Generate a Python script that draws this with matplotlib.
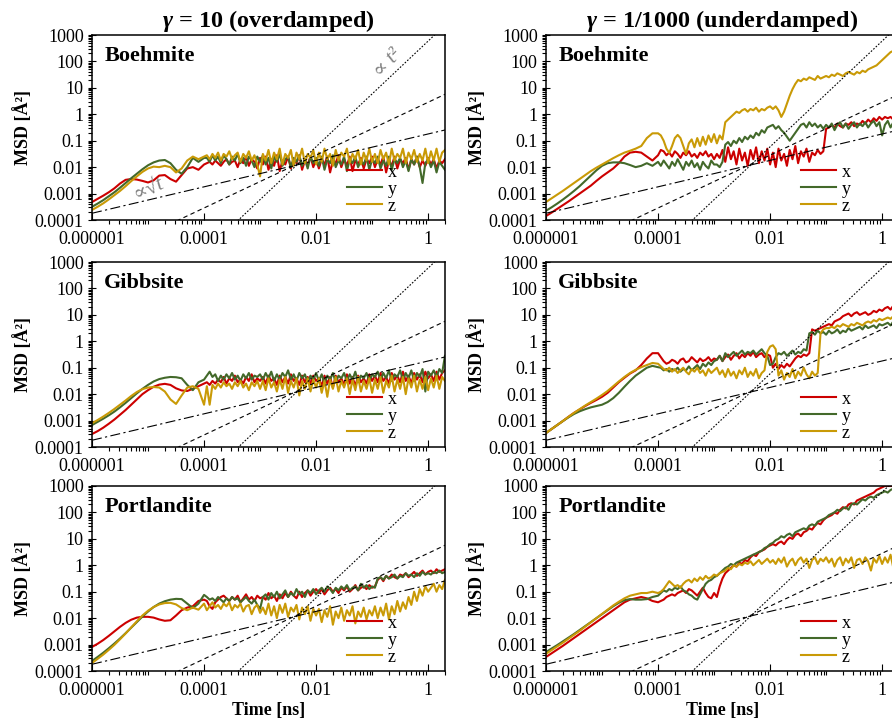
import numpy as np
import matplotlib
matplotlib.use("Agg")
import matplotlib.pyplot as plt
from matplotlib.ticker import FixedLocator, LogLocator, FuncFormatter, NullFormatter

plt.rcParams['font.family'] = ['Liberation Serif', 'DejaVu Serif']
plt.rcParams['mathtext.fontset'] = 'custom'
plt.rcParams['mathtext.it'] = 'Liberation Serif:italic:bold'
plt.rcParams['mathtext.rm'] = 'Liberation Serif:bold'

# ---- data: log10(time / ns) and log10(MSD / A^2) ----
log_t = [-6.0, -5.9, -5.8, -5.7, -5.6, -5.5, -5.4, -5.3, -5.2, -5.1, -5.0,
         -4.9, -4.8, -4.7, -4.6, -4.5, -4.4, -4.3, -4.2, -4.1, -4.0,
         -3.95, -3.9, -3.85, -3.8, -3.75, -3.7, -3.65, -3.6, -3.55, -3.5,
         -3.45, -3.4, -3.35, -3.3, -3.25, -3.2, -3.15, -3.1, -3.05, -3.0,
         -2.95, -2.9, -2.85, -2.8, -2.75, -2.7, -2.65, -2.6, -2.55, -2.5,
         -2.45, -2.4, -2.35, -2.3, -2.25, -2.2, -2.15, -2.1, -2.05, -2.0,
         -1.95, -1.9, -1.85, -1.8, -1.75, -1.7, -1.65, -1.6, -1.55, -1.5,
         -1.45, -1.4, -1.35, -1.3, -1.25, -1.2, -1.15, -1.1, -1.05, -1.0,
         -0.95, -0.9, -0.85, -0.8, -0.75, -0.7, -0.65, -0.6, -0.55, -0.5,
         -0.45, -0.4, -0.35, -0.3, -0.25, -0.2, -0.15, -0.1, -0.05, 0.0,
         0.05, 0.1, 0.15, 0.2, 0.25, 0.3]

# gamma = 10 (overdamped)
boeh_od_x = [-3.32, -3.2, -3.08, -2.95, -2.8, -2.62, -2.48, -2.45, -2.47, -2.52, -2.58, -2.5, -2.32, -2.3, -2.45, -2.55, -2.3, -2.05, -2.0, -2.1, -1.9,
             -1.85, -1.8, -1.9, -1.75, -1.85, -1.95, -1.8, -1.7, -1.9, -1.8, -1.75, -2.0, -1.7, -1.85, -1.6, -1.95, -1.7, -1.8, -2.05, -1.65,
             -1.9, -1.6, -2.1, -1.7, -1.95, -1.55, -2.15, -1.75, -1.9, -1.6, -2.05, -1.7, -1.85, -1.55, -2.1, -1.75, -1.9, -1.6, -2.0, -1.7,
             -2.05, -1.7, -1.9, -1.6, -2.2, -1.75, -1.85, -1.55, -2.0, -1.7, -1.95, -1.6, -2.15, -1.75, -1.9, -1.65, -2.05, -1.7, -1.85, -1.6,
             -2.0, -1.7, -1.9, -1.6, -2.2, -1.75, -1.95, -1.6, -2.05, -1.7, -1.85, -1.65, -2.1, -1.7, -1.9, -1.6, -2.0, -1.75, -1.95, -1.65,
             -1.9, -1.7, -2.05, -1.75, -1.85, -1.7]
boeh_od_y = [-3.5, -3.38, -3.25, -3.1, -2.95, -2.78, -2.6, -2.42, -2.25, -2.08, -1.93, -1.82, -1.75, -1.73, -1.85, -2.1, -2.25, -2.0, -1.65, -1.8, -1.65,
             -1.65, -1.8, -1.55, -1.75, -1.6, -1.85, -1.55, -1.7, -1.9, -1.6, -1.75, -1.5, -1.85, -1.65, -1.95, -1.6, -1.75, -2.0, -1.6, -1.8,
             -1.55, -1.9, -1.65, -2.05, -1.6, -1.8, -1.5, -1.95, -1.7, -1.6, -2.0, -1.65, -1.8, -1.55, -1.95, -1.7, -2.05, -1.6, -1.85, -1.65,
             -1.95, -1.6, -2.1, -1.7, -1.85, -1.55, -2.0, -1.75, -1.9, -1.6, -2.15, -1.7, -1.85, -1.6, -2.0, -1.75, -1.9, -1.6, -2.1, -1.7,
             -1.85, -1.6, -2.05, -1.75, -1.95, -1.6, -2.1, -1.7, -1.85, -1.65, -2.0, -1.75, -2.15, -1.7, -1.9, -1.6, -2.0, -2.6, -1.85, -1.7,
             -2.0, -1.75, -2.2, -1.8, -1.95, -2.1]
boeh_od_z = [-3.62, -3.5, -3.37, -3.22, -3.06, -2.9, -2.72, -2.53, -2.35, -2.18, -2.05, -1.98, -2.0, -1.95, -2.0, -2.2, -2.05, -1.75, -1.6, -1.7, -1.6,
             -1.55, -1.7, -1.5, -1.65, -1.45, -1.75, -1.5, -1.6, -1.4, -1.7, -1.55, -1.45, -1.8, -1.5, -1.65, -1.4, -1.75, -1.55, -1.9, -2.35,
             -1.5, -1.75, -1.35, -1.85, -1.45, -1.7, -1.3, -1.9, -1.5, -1.65, -1.35, -1.95, -1.45, -1.7, -1.3, -1.85, -1.5, -1.65, -1.35, -1.9,
             -1.45, -1.8, -1.3, -1.7, -1.5, -1.95, -1.35, -1.75, -1.45, -1.6, -1.3, -1.85, -1.5, -1.7, -1.35, -1.9, -1.45, -1.75, -1.3, -1.8,
             -1.5, -1.85, -1.35, -1.7, -1.45, -1.9, -1.3, -1.75, -1.5, -1.65, -1.3, -1.85, -1.45, -1.7, -1.35, -1.8, -1.5, -1.75, -1.3, -1.85,
             -1.4, -1.75, -1.3, -1.8, -1.45, -1.35]

gibb_od_x = [-3.51, -3.4, -3.27, -3.12, -2.96, -2.78, -2.6, -2.4, -2.2, -2.0, -1.85, -1.72, -1.64, -1.61, -1.65, -1.78, -1.86, -1.88, -1.8, -1.7, -1.6,
             -1.55, -1.65, -1.5, -1.6, -1.45, -1.55, -1.35, -1.6, -1.4, -1.5, -1.3, -1.55, -1.45, -1.6, -1.35, -1.5, -1.25, -1.55, -1.4, -1.5,
             -1.35, -1.6, -1.3, -1.5, -1.4, -1.65, -1.3, -1.55, -1.35, -1.6, -1.25, -1.5, -1.4, -1.65, -1.3, -1.55, -1.35, -1.6, -1.3, -1.5,
             -1.4, -1.7, -1.3, -1.6, -1.35, -1.75, -1.3, -1.55, -1.4, -1.65, -1.25, -1.6, -1.35, -1.7, -1.3, -1.55, -1.4, -1.6, -1.25, -1.5,
             -1.3, -1.55, -1.2, -1.5, -1.35, -1.6, -1.2, -1.45, -1.3, -1.55, -1.15, -1.5, -1.3, -1.6, -1.2, -1.45, -1.25, -1.55, -1.15, -1.4,
             -1.25, -1.5, -1.15, -1.45, -1.2, -1.1]
gibb_od_y = [-3.17, -3.05, -2.93, -2.8, -2.66, -2.5, -2.33, -2.15, -1.97, -1.8, -1.65, -1.52, -1.43, -1.38, -1.35, -1.36, -1.4, -1.65, -1.85, -1.55, -1.45,
             -1.3, -1.15, -1.35, -1.25, -1.5, -1.3, -1.45, -1.25, -1.4, -1.2, -1.45, -1.3, -1.5, -1.25, -1.4, -1.2, -1.45, -1.3, -1.35, -1.25,
             -1.45, -1.2, -1.4, -1.15, -1.5, -1.25, -1.45, -1.2, -1.35, -1.1, -1.45, -1.25, -1.5, -1.2, -1.4, -1.25, -1.55, -1.3, -1.45, -1.2,
             -1.5, -1.25, -1.6, -1.3, -1.45, -1.2, -1.55, -1.3, -1.4, -1.2, -1.5, -1.25, -1.45, -1.15, -1.55, -1.3, -1.4, -1.2, -1.5, -1.25,
             -1.35, -1.15, -1.45, -1.2, -1.4, -1.1, -1.5, -1.25, -1.35, -1.1, -1.45, -1.2, -1.4, -1.1, -1.5, -1.2, -1.35, -1.05, -1.9, -1.15,
             -1.3, -1.1, -1.35, -1.05, -1.2, -0.55]
gibb_od_z = [-3.1, -2.98, -2.85, -2.71, -2.56, -2.4, -2.24, -2.07, -1.92, -1.81, -1.75, -1.73, -1.75, -1.9, -2.2, -2.37, -2.05, -1.75, -1.7, -1.8, -2.4,
             -1.7, -2.4, -1.65, -1.8, -1.6, -1.75, -1.55, -1.7, -1.6, -1.8, -1.55, -1.7, -1.5, -1.75, -1.6, -1.85, -1.55, -1.7, -1.5, -1.8,
             -1.5, -1.85, -1.4, -1.75, -1.55, -1.9, -1.45, -1.8, -1.35, -1.95, -1.5, -1.75, -1.4, -2.05, -1.5, -1.8, -1.4, -1.9, -1.45, -1.75,
             -1.4, -1.95, -1.5, -2.1, -1.45, -1.8, -1.35, -1.9, -1.5, -1.75, -1.4, -2.0, -1.45, -1.85, -1.35, -1.9, -1.5, -1.8, -1.4, -1.95,
             -1.45, -1.8, -1.35, -1.95, -1.5, -1.75, -1.3, -1.9, -1.45, -1.8, -1.35, -2.0, -1.4, -1.75, -1.3, -1.9, -1.45, -1.8, -1.35, -1.85,
             -1.4, -1.75, -1.3, -1.8, -1.35, -1.5]

port_od_x = [-3.09, -2.97, -2.83, -2.67, -2.5, -2.33, -2.18, -2.06, -1.98, -1.95, -1.95, -1.98, -2.05, -2.1, -2.08, -1.9, -1.7, -1.6, -1.55, -1.35, -1.3,
             -1.35, -1.55, -1.65, -1.4, -1.3, -1.2, -1.15, -1.25, -1.35, -1.2, -1.3, -1.15, -1.4, -1.25, -1.1, -1.3, -1.2, -1.35, -1.15, -1.25,
             -1.2, -1.3, -1.05, -1.25, -1.15, -1.35, -1.1, -1.25, -1.05, -1.2, -1.0, -1.15, -1.25, -1.0, -1.2, -1.05, -0.95, -1.15, -1.0, -0.9,
             -1.05, -0.9, -1.1, -0.95, -0.85, -1.0, -0.9, -1.05, -0.85, -0.95, -0.8, -1.0, -0.9, -0.75, -0.95, -0.85, -0.8, -0.9, -0.75, -0.85,
             -0.8, -0.55, -0.45, -0.6, -0.4, -0.5, -0.35, -0.45, -0.5, -0.35, -0.4, -0.3, -0.45, -0.35, -0.25, -0.4, -0.3, -0.2, -0.35, -0.25,
             -0.2, -0.3, -0.15, -0.25, -0.2, -0.15]
port_od_y = [-3.62, -3.47, -3.31, -3.14, -2.96, -2.77, -2.57, -2.36, -2.15, -1.94, -1.75, -1.58, -1.45, -1.36, -1.3, -1.27, -1.28, -1.45, -1.62, -1.45, -1.12,
             -1.2, -1.3, -1.25, -1.35, -1.2, -1.3, -1.4, -1.25, -1.35, -1.2, -1.3, -1.25, -1.4, -1.3, -1.2, -1.35, -1.45, -1.3, -1.5, -1.65,
             -1.2, -1.1, -1.3, -1.05, -1.2, -1.0, -1.25, -1.1, -0.95, -1.2, -1.05, -1.15, -0.9, -1.1, -1.0, -1.2, -0.95, -1.05, -0.9, -1.1,
             -0.95, -0.85, -1.0, -0.8, -0.9, -1.05, -0.85, -0.95, -0.8, -0.9, -0.75, -0.95, -0.85, -0.8, -0.95, -0.7, -0.85, -0.75, -0.9, -0.8,
             -0.85, -0.5, -0.45, -0.55, -0.4, -0.5, -0.45, -0.35, -0.5, -0.4, -0.45, -0.3, -0.4, -0.35, -0.45, -0.3, -0.4, -0.25, -0.35, -0.3,
             -0.35, -0.25, -0.3, -0.2, -0.3, -0.25]
port_od_z = [-3.7, -3.54, -3.38, -3.2, -3.01, -2.8, -2.58, -2.35, -2.12, -1.9, -1.72, -1.58, -1.48, -1.43, -1.42, -1.48, -1.62, -1.7, -1.6, -1.68, -1.45,
             -1.7, -1.55, -1.4, -1.6, -1.5, -1.65, -1.45, -1.55, -1.4, -1.7, -1.5, -1.6, -1.45, -1.75, -1.55, -1.5, -1.85, -1.6, -1.5, -1.8,
             -1.6, -1.85, -1.45, -1.9, -1.55, -2.0, -1.5, -1.8, -1.45, -1.95, -1.6, -1.75, -1.5, -2.05, -1.6, -1.85, -1.55, -2.1, -1.65, -1.9,
             -1.65, -2.15, -1.7, -1.95, -1.55, -2.25, -1.75, -2.0, -1.6, -2.1, -1.7, -1.9, -1.55, -2.2, -1.75, -1.95, -1.6, -2.05, -1.7, -1.9,
             -1.55, -2.0, -1.6, -1.9, -1.45, -2.05, -1.55, -1.85, -1.35, -1.75, -1.4, -1.65, -1.2, -1.5, -1.0, -1.35, -0.9, -1.15, -0.8, -1.0,
             -0.85, -0.7, -1.0, -0.75, -0.9, -0.55]

# gamma = 1/1000 (underdamped)
boeh_ud_x = [-3.85, -3.72, -3.58, -3.44, -3.3, -3.15, -3.0, -2.85, -2.7, -2.52, -2.35, -2.2, -2.05, -1.85, -1.6, -1.45, -1.42, -1.45, -1.6, -1.75, -1.55,
             -1.35, -1.4, -1.55, -1.45, -1.6, -1.4, -1.5, -1.65, -1.45, -1.55, -1.4, -1.6, -1.5, -1.65, -1.45, -1.55, -1.4, -1.6, -1.5, -1.7,
             -1.5, -1.65, -1.35, -1.8, -1.25, -1.7, -1.4, -1.9, -1.3, -1.75, -1.45, -1.95, -1.35, -1.7, -1.25, -1.85, -1.4, -1.75, -1.3, -1.9,
             -1.45, -2.0, -1.3, -1.75, -1.5, -1.95, -1.35, -1.7, -1.2, -1.85, -1.4, -1.6, -1.3, -1.8, -1.45, -1.55, -1.35, -1.5, -1.4, -0.55,
             -0.5, -0.4, -0.5, -0.35, -0.45, -0.5, -0.35, -0.4, -0.3, -0.45, -0.35, -0.4, -0.25, -0.35, -0.2, -0.3, -0.15, -0.25, -0.1, -0.2,
             -0.1, -0.15, -0.1, -0.2, -0.1, -0.15]
boeh_ud_y = [-3.65, -3.52, -3.38, -3.23, -3.07, -2.9, -2.72, -2.52, -2.32, -2.12, -1.95, -1.85, -1.82, -1.82, -1.85, -1.92, -2.0, -1.95, -1.85, -1.95, -1.8,
             -1.95, -1.75, -1.9, -2.05, -1.8, -1.95, -1.7, -1.9, -2.1, -1.8, -1.95, -1.75, -2.0, -1.85, -2.1, -1.8, -1.95, -2.05, -1.75, -1.9,
             -1.9, -2.0, -1.8, -1.15, -1.05, -1.2, -1.0, -1.1, -0.9, -1.05, -0.85, -0.95, -0.8, -0.9, -0.7, -0.8, -0.6, -0.7, -0.5, -0.45,
             -0.4, -0.55, -0.45, -0.6, -0.7, -0.85, -1.0, -0.85, -0.7, -0.55, -0.4, -0.35, -0.5, -0.3, -0.45, -0.35, -0.5, -0.4, -0.55, -0.4,
             -0.5, -0.35, -0.6, -0.4, -0.3, -0.5, -0.35, -0.55, -0.4, -0.3, -0.5, -0.35, -0.45, -0.3, -0.5, -0.35, -0.25, -0.45, -0.3, -0.8,
             -0.4, -0.25, -0.5, -0.3, -0.4, -0.3]
boeh_ud_z = [-3.32, -3.18, -3.04, -2.9, -2.75, -2.6, -2.45, -2.3, -2.15, -2.02, -1.9, -1.78, -1.66, -1.55, -1.45, -1.38, -1.3, -1.2, -0.9, -0.72, -0.72,
             -0.8, -1.0, -1.3, -1.46, -1.2, -0.9, -0.78, -0.9, -1.2, -1.5, -1.1, -0.95, -1.25, -0.9, -1.2, -0.85, -1.15, -0.8, -1.05, -0.75,
             -1.1, -0.8, -0.95, -0.3, -0.2, -0.1, 0.0, 0.1, 0.05, 0.15, 0.2, 0.1, 0.2, 0.15, 0.25, 0.1, 0.2, 0.15, 0.25, 0.3,
             0.2, 0.3, 0.15, -0.1, 0.1, 0.4, 0.7, 0.95, 1.15, 1.3, 1.25, 1.35, 1.3, 1.4, 1.35, 1.3, 1.45, 1.35, 1.4, 1.45,
             1.4, 1.5, 1.45, 1.55, 1.5, 1.45, 1.55, 1.6, 1.55, 1.5, 1.6, 1.55, 1.65, 1.6, 1.7, 1.75, 1.8, 1.85, 1.95, 2.05,
             2.15, 2.25, 2.35, 2.4, 2.45, 2.5]

gibb_ud_x = [-3.47, -3.32, -3.17, -3.02, -2.86, -2.71, -2.58, -2.45, -2.33, -2.22, -2.1, -1.95, -1.75, -1.55, -1.38, -1.22, -1.1, -0.9, -0.65, -0.45, -0.45,
             -0.6, -0.75, -0.85, -0.8, -0.7, -0.75, -0.85, -0.7, -0.65, -0.8, -0.75, -0.6, -0.7, -0.8, -0.65, -0.75, -0.7, -0.6, -0.75, -0.65,
             -0.7, -0.55, -0.75, -0.6, -0.5, -0.7, -0.55, -0.45, -0.65, -0.5, -0.6, -0.45, -0.55, -0.4, -0.6, -0.5, -0.45, -0.6, -0.5, -0.55,
             -1.0, -0.85, -1.05, -0.9, -1.0, -0.85, -0.95, -0.8, -0.65, -0.55, -0.6, -0.5, -0.55, -0.45, 0.45, 0.4, 0.45, 0.5, 0.55, 0.6,
             0.65, 0.6, 0.75, 0.8, 0.85, 0.95, 1.0, 1.05, 0.95, 1.05, 1.1, 1.0, 1.05, 1.1, 1.0, 1.05, 1.15, 1.1, 1.2, 1.15,
             1.25, 1.3, 1.2, 1.35, 1.3, 1.25]
gibb_ud_y = [-3.47, -3.32, -3.17, -3.02, -2.88, -2.75, -2.65, -2.57, -2.5, -2.45, -2.4, -2.3, -2.15, -1.95, -1.72, -1.5, -1.3, -1.15, -1.0, -0.93, -0.98,
             -1.0, -1.1, -1.05, -1.15, -1.05, -1.1, -1.0, -1.15, -1.05, -1.1, -0.95, -1.1, -1.0, -0.9, -1.05, -0.85, -0.95, -0.8, -0.9, -0.75,
             -0.7, -0.55, -0.75, -0.45, -0.6, -0.5, -0.4, -0.55, -0.45, -0.35, -0.5, -0.4, -0.45, -0.35, -0.5, -0.4, -0.3, -0.45, -0.55, -0.9,
             -0.85, -0.6, -0.45, -0.5, -0.4, -0.55, -0.45, -0.35, -0.5, -0.4, -0.45, -0.3, -0.35, 0.3, 0.35, 0.25, 0.4, 0.3, 0.35, 0.25,
             0.4, 0.3, 0.35, 0.45, 0.3, 0.4, 0.35, 0.5, 0.4, 0.45, 0.5, 0.55, 0.45, 0.6, 0.5, 0.55, 0.6, 0.5, 0.65, 0.6,
             0.65, 0.7, 0.6, 0.75, 0.7, 0.8]
gibb_ud_z = [-3.47, -3.32, -3.17, -3.02, -2.86, -2.71, -2.57, -2.43, -2.3, -2.17, -2.03, -1.88, -1.7, -1.52, -1.35, -1.2, -1.08, -0.98, -0.9, -0.82, -0.85,
             -0.95, -1.05, -1.1, -1.0, -1.15, -1.05, -1.2, -1.1, -1.0, -1.15, -1.25, -1.05, -1.15, -1.0, -1.2, -1.1, -1.3, -1.05, -1.2, -1.1,
             -1.0, -1.25, -1.1, -1.35, -1.05, -1.3, -1.15, -1.4, -1.1, -1.25, -1.0, -1.35, -1.15, -1.3, -1.05, -1.4, -1.2, -1.1, -0.4, -0.2,
             -0.15, -0.3, -1.3, -1.1, -1.45, -1.2, -1.35, -1.05, -1.4, -1.15, -1.3, -1.0, -1.25, -1.4, -1.15, -1.3, -1.2, 0.3, 0.45, 0.5,
             0.5, 0.55, 0.5, 0.6, 0.55, 0.65, 0.6, 0.55, 0.65, 0.6, 0.7, 0.65, 0.6, 0.7, 0.75, 0.7, 0.8, 0.75, 0.85, 0.8,
             0.85, 0.9, 0.85, 0.95, 0.9, 1.0]

port_ud_x = [-3.47, -3.33, -3.19, -3.05, -2.9, -2.75, -2.6, -2.45, -2.3, -2.15, -2.0, -1.85, -1.7, -1.55, -1.4, -1.3, -1.25, -1.2, -1.25, -1.35, -1.4,
             -1.35, -1.3, -1.2, -1.15, -1.1, -1.15, -1.05, -1.0, -0.95, -1.05, -0.9, -0.95, -1.05, -1.15, -1.0, -0.85, -1.05, -1.2, -1.25, -1.05,
             -1.2, -0.8, -0.5, -0.3, -0.2, -0.1, 0.0, -0.05, 0.1, 0.05, 0.2, 0.15, 0.3, 0.4, 0.35, 0.5, 0.55, 0.6, 0.7, 0.75,
             0.8, 0.75, 0.85, 0.9, 0.8, 0.95, 1.05, 1.0, 1.15, 1.2, 1.1, 1.25, 1.3, 1.4, 1.35, 1.5, 1.6, 1.55, 1.7, 1.8,
             1.85, 1.9, 2.0, 1.95, 2.1, 2.2, 2.15, 2.3, 2.35, 2.3, 2.45, 2.5, 2.55, 2.6, 2.65, 2.7, 2.75, 2.85, 2.9, 2.95,
             3.0, 3.0, 3.0, 3.0, 3.0, 3.0]
port_ud_y = [-3.28, -3.15, -3.02, -2.88, -2.74, -2.6, -2.45, -2.3, -2.15, -2.0, -1.85, -1.7, -1.55, -1.42, -1.32, -1.28, -1.3, -1.3, -1.28, -1.2, -1.15,
             -1.05, -0.95, -1.0, -0.9, -0.95, -0.85, -0.9, -0.8, -0.95, -1.0, -1.1, -1.15, -1.25, -1.3, -1.1, -0.9, -0.7, -0.6, -0.55, -0.45,
             -0.4, -0.3, -0.2, -0.1, -0.05, 0.05, 0.0, 0.1, 0.15, 0.2, 0.25, 0.3, 0.35, 0.4, 0.45, 0.5, 0.55, 0.65, 0.7, 0.8,
             0.85, 0.95, 1.0, 1.1, 1.05, 1.15, 1.2, 1.1, 1.25, 1.3, 1.35, 1.4, 1.35, 1.5, 1.55, 1.5, 1.65, 1.7, 1.75, 1.8,
             1.9, 1.95, 2.0, 2.1, 2.05, 2.15, 2.2, 2.1, 2.3, 2.35, 2.3, 2.4, 2.5, 2.45, 2.55, 2.6, 2.55, 2.65, 2.7, 2.75,
             2.8, 2.75, 2.85, 2.9, 2.95, 3.0]
port_ud_z = [-3.35, -3.21, -3.07, -2.93, -2.78, -2.63, -2.48, -2.32, -2.16, -2.0, -1.84, -1.68, -1.52, -1.38, -1.25, -1.15, -1.1, -1.05, -1.05, -1.0, -1.05,
             -1.0, -0.9, -0.75, -0.6, -0.7, -0.8, -0.75, -0.85, -0.7, -0.6, -0.55, -0.65, -0.5, -0.6, -0.45, -0.55, -0.4, -0.5, -0.45, -0.35,
             -0.4, -0.3, -0.25, -0.2, -0.1, -0.15, 0.0, -0.05, 0.05, 0.0, 0.1, 0.05, 0.15, 0.0, 0.1, 0.2, 0.05, 0.15, 0.25, 0.1,
             0.2, 0.05, 0.25, 0.1, 0.3, -0.05, 0.15, 0.25, 0.0, 0.2, 0.3, 0.1, 0.25, -0.1, 0.2, 0.3, 0.05, 0.25, 0.15, 0.3,
             0.1, 0.25, -0.05, 0.2, 0.3, 0.0, 0.25, 0.1, 0.3, -0.1, 0.2, 0.25, 0.05, 0.3, 0.15, -0.2, 0.25, 0.1, 0.35, 0.05,
             0.3, 0.1, 0.4, -0.1, 0.25, 0.35]

minerals = ['Boehmite', 'Gibbsite', 'Portlandite']
titles = [r'$\gamma$ = 10 (overdamped)', r'$\gamma$ = 1/1000 (underdamped)']
components = ['x', 'y', 'z']
comp_colors = ['#CC0000', '#43692A', '#C99A06']

# power-law guide lines: MSD = coef * t^power
guide_power = [2.0, 1.0, 0.5]
guide_coef = [590.0, 2.85, 0.18]
guide_t = [1e-6, 2.0]

x_ticks = [1e-6, 1e-4, 1e-2, 1.0]
y_ticks = [1e-4, 1e-3, 1e-2, 1e-1, 1.0, 10.0, 100.0, 1000.0]

series = [[(boeh_od_x, boeh_od_y, boeh_od_z), (boeh_ud_x, boeh_ud_y, boeh_ud_z)],
          [(gibb_od_x, gibb_od_y, gibb_od_z), (gibb_ud_x, gibb_ud_y, gibb_ud_z)],
          [(port_od_x, port_od_y, port_od_z), (port_ud_x, port_ud_y, port_ud_z)]]

t = 10 ** np.array(log_t)


def plain(v, pos):
    return np.format_float_positional(v, trim='-')


fig = plt.figure(figsize=(8.92, 7.28), dpi=100)
W, H = 892.0, 728.0
col_left = [92, 546]
row_top = [35, 262, 486]
ax_w, ax_h = 353, 185

guide_styles = [dict(linestyle=(0, (1.5, 1.5))),
                dict(linestyle=(0, (4, 3))),
                dict(linestyle=(0, (9, 3, 2, 3)))]

for r in range(3):
    for c in range(2):
        ax = fig.add_axes([col_left[c] / W, 1 - (row_top[r] + ax_h) / H, ax_w / W, ax_h / H])
        ax.set_xscale('log')
        ax.set_yscale('log')
        for vals, name, col in zip(series[r][c], components, comp_colors):
            assert len(vals) == len(log_t), (r, c, name, len(vals))
            ax.plot(t, 10 ** np.array(vals), color=col, lw=1.5, label=name)
        for p, k, st in zip(guide_power, guide_coef, guide_styles):
            gt = np.array(guide_t)
            ax.plot(gt, k * gt ** p, color='black', lw=0.8, zorder=5, **st)
        ax.set_xlim(1e-6, 2)
        ax.set_ylim(1e-4, 1e3)

        ax.xaxis.set_major_locator(FixedLocator(x_ticks))
        ax.xaxis.set_minor_locator(LogLocator(base=10, subs=np.arange(1, 10), numticks=60))
        ax.yaxis.set_major_locator(FixedLocator(y_ticks))
        ax.yaxis.set_minor_locator(LogLocator(base=10, subs=np.arange(2, 10), numticks=60))
        ax.xaxis.set_major_formatter(FuncFormatter(plain))
        ax.yaxis.set_major_formatter(FuncFormatter(plain))
        ax.xaxis.set_minor_formatter(NullFormatter())
        ax.yaxis.set_minor_formatter(NullFormatter())
        ax.tick_params(axis='x', which='major', direction='in', length=5, width=0.8, labelsize=13, pad=8)
        ax.tick_params(axis='x', which='minor', direction='out', length=3, width=0.8)
        ax.tick_params(axis='y', which='major', direction='inout', length=6, width=0.8, labelsize=13, pad=3)
        ax.tick_params(axis='y', which='minor', direction='out', length=3, width=0.8)
        for s in ax.spines.values():
            s.set_linewidth(1.1)

        ax.set_ylabel('MSD [Å²]', fontsize=13, fontweight='bold', labelpad=2)
        if r == 2:
            ax.set_xlabel('Time [ns]', fontsize=13, fontweight='bold', labelpad=2)
        if r == 0:
            ax.set_title(titles[c], fontsize=17.5, fontweight='bold', pad=6)
        ax.text(0.035, 0.885, minerals[r], transform=ax.transAxes, fontsize=16,
                fontweight='bold', va='center', ha='left')
        ax.legend(frameon=False, loc='lower right', bbox_to_anchor=(0.9, -0.04),
                  fontsize=13, handlelength=1.9, handletextpad=0.35,
                  labelspacing=0.0, borderpad=0.2)

        if r == 0 and c == 0:
            ax.text(0.84, 0.845, '∝ t²', transform=ax.transAxes, fontsize=15,
                    color='#808080', rotation=48, ha='center', va='center', style='italic')
            ax.text(0.16, 0.165, '∝√t', transform=ax.transAxes, fontsize=15,
                    color='#808080', rotation=25, ha='center', va='center', style='italic')

fig.savefig('out.png', dpi=100)
